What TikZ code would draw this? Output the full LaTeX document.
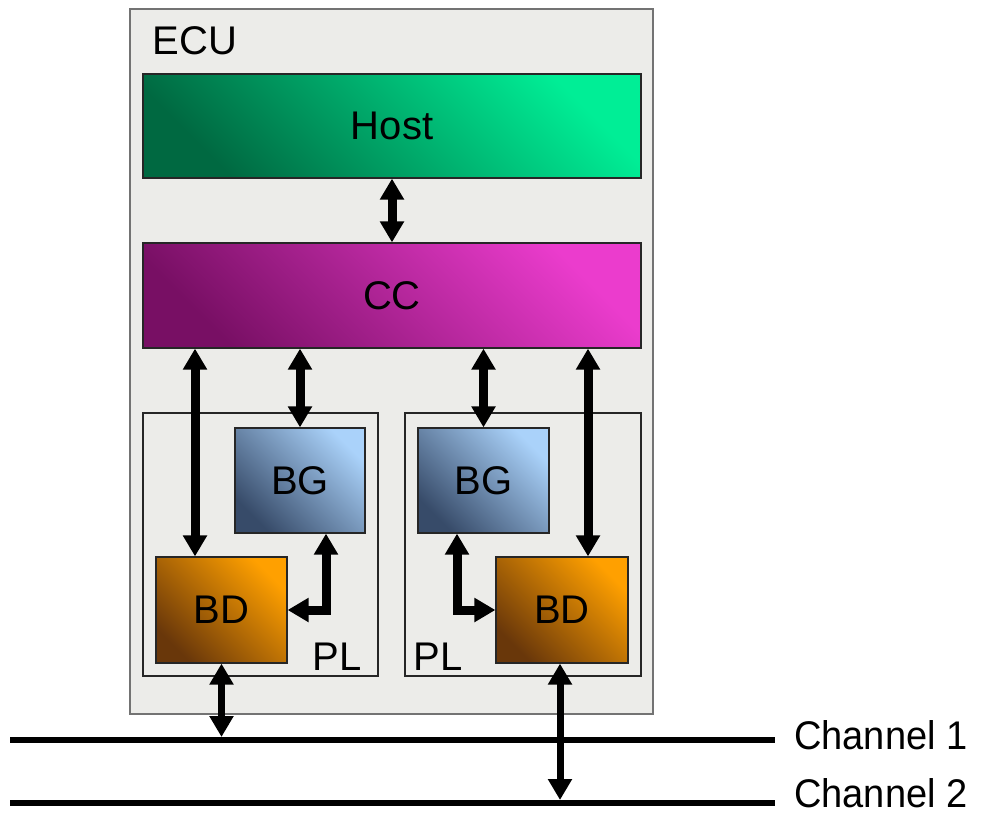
\documentclass[tikz,border=0pt]{standalone}
\usepackage{fontspec}
\setmainfont{Liberation Sans}
\usetikzlibrary{arrows.meta}
\definecolor{ecugray}{RGB}{236,236,233}
\definecolor{hostlo}{RGB}{0,105,65}
\definecolor{hosthi}{RGB}{0,238,150}
\definecolor{cclo}{RGB}{120,15,100}
\definecolor{cchi}{RGB}{235,60,205}
\definecolor{bglo}{RGB}{55,75,105}
\definecolor{bghi}{RGB}{170,210,250}
\definecolor{bdlo}{RGB}{105,55,10}
\definecolor{bdhi}{RGB}{255,160,0}

\begin{document}
\begin{tikzpicture}[x=1pt,y=-1pt,>={Triangle[width=23pt,length=21pt]},<->,line width=9pt,
    box/.style={draw=black!85,line width=1.2pt,inner sep=0pt,font=\fontsize{40}{48}\selectfont},
    unit/.style 2 args={box,top color=#2,bottom color=#1,shading angle=-45},
    tag/.style={font=\fontsize{40}{48}\selectfont,inner sep=0pt}]
  \useasboundingbox (0,0) rectangle (982,816);
  \node (E) [box,fill=ecugray,draw=black!55,minimum width=523pt,minimum height=705pt] at (391.5,361.5) {};
  \node (EL) [tag,anchor=base west] at (148,55) {ECU};
  \node (H) [unit={hostlo}{hosthi},minimum width=498pt,minimum height=104pt] at (392,126) {Host};
  \node (C) [unit={cclo}{cchi},minimum width=498pt,minimum height=105pt] at (392,295.5) {CC};
  \node (P1) [box,minimum width=235pt,minimum height=263pt] at (260.5,544.5) {};
  \node (P2) [box,minimum width=236pt,minimum height=263pt] at (523,544.5) {};
  \node (G1) [unit={bglo}{bghi},minimum width=130pt,minimum height=105pt] at (300,480.5) {BG};
  \node (G2) [unit={bglo}{bghi},minimum width=131pt,minimum height=105pt] at (483.5,480.5) {BG};
  \node (D1) [unit={bdlo}{bdhi},minimum width=131pt,minimum height=106pt] at (221.5,610) {BD};
  \node (D2) [unit={bdlo}{bdhi},minimum width=132pt,minimum height=106pt] at (562,610) {BD};
  \node (PL1) [tag,anchor=base east] at (366,670) {PL};
  \node (PL2) [tag,anchor=base west] at (409,670) {PL};
  \node (K1) [tag,anchor=base west,xscale=.95] at (790,749) {Channel 1};
  \node (K2) [tag,anchor=base west,xscale=.95] at (790,807) {Channel 2};
  \coordinate (L1) at (10,740);
  \coordinate (R1) at (775,740);
  \coordinate (L2) at (10,803);
  \coordinate (R2) at (775,803);
  \draw[-,line width=6pt] (L1) -- (R1);
  \draw[-,line width=6pt] (L2) -- (R2);
  \draw (H) -- (C);
  \draw ([xshift=-26.5pt]D1.north) -- ([xshift=-26.5pt]D1.north |- C.south);
  \draw (G1.north) -- (G1.north |- C.south);
  \draw (G2.north) -- (G2.north |- C.south);
  \draw ([xshift=26pt]D2.north) -- ([xshift=26pt]D2.north |- C.south);
  \draw ([xshift=26pt]G1.south) |- (D1.east);
  \draw ([xshift=-26.5pt]G2.south) |- (D2.west);
  \draw[line width=7pt,shorten >=3pt] (D1.south) -- (D1.south |- L1);
  \draw[line width=7pt,shorten >=3pt] ([xshift=-2pt]D2.south) -- ([xshift=-2pt]D2.south |- L2);
\end{tikzpicture}
\end{document}
